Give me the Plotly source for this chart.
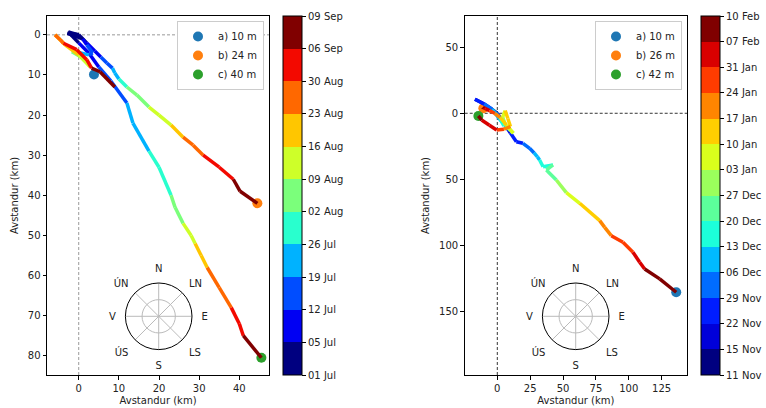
import numpy as np
import plotly.graph_objects as go

W, H = 766, 408

# ---------------- DATA ----------------
# Left panel (summer) - colorbar bin edges
L_EDGES = ["2000-07-01", "2000-07-05", "2000-07-12", "2000-07-19", "2000-07-26", "2000-08-02",
           "2000-08-09", "2000-08-16", "2000-08-23", "2000-08-30", "2000-09-06", "2000-09-09"]
L_EDGE_LABELS = ["01 Jul", "05 Jul", "12 Jul", "19 Jul", "26 Jul", "02 Aug",
                 "09 Aug", "16 Aug", "23 Aug", "30 Aug", "06 Sep", "09 Sep"]

# Right panel (winter) - colorbar bin edges
R_EDGES = ["2000-11-11", "2000-11-15", "2000-11-22", "2000-11-29", "2000-12-06", "2000-12-13",
           "2000-12-20", "2000-12-27", "2001-01-03", "2001-01-10", "2001-01-17", "2001-01-24",
           "2001-01-31", "2001-02-07", "2001-02-10"]
R_EDGE_LABELS = ["11 Nov", "15 Nov", "22 Nov", "29 Nov", "06 Dec", "13 Dec", "20 Dec", "27 Dec",
                 "03 Jan", "10 Jan", "17 Jan", "24 Jan", "31 Jan", "07 Feb", "10 Feb"]

# Left tracks
L10_T = ["07-01", "07-03", "07-06", "07-10", "07-15", "07-20", "07-26", "07-30", "08-03", "08-07",
         "08-11", "08-14", "08-18", "08-23", "08-27", "08-31", "09-03", "09-05", "09-06", "09-08", "09-09"]
L10_X = [0, -2.8, 1, 2, 3.5, 2.5, 0.5, -1.5, -1.7, 1.1, 2.8, 0, -3.4, -5.9, -4.6, -3.8, -0.5, 2, 3.2, 5.3, 9]
L10_Y = [0, -0.4, 1, 2.5, 4.5, 5, 4.5, 4, 4.2, 5.8, 7.9, 5, 2.5, 0, 1.2, 2.1, 3.7, 6.2, 8.3, 9.2, 13]

L24_T = ["07-01", "07-04", "07-08", "07-12", "07-16", "07-19", "07-23", "07-27", "08-01", "08-05",
         "08-09", "08-13", "08-17", "08-21", "08-25", "08-29", "09-02", "09-05", "09-07", "09-09"]
L24_X = [0, 2, 4, 5.5, 7, 8.4, 9, 10, 12, 14.5, 17.5, 20, 23, 26, 28.5, 31, 35, 38.5, 40.2, 44.5]
L24_Y = [0, 2, 4, 5.5, 7, 8.3, 9.5, 11, 13, 15, 18, 20, 22.5, 25.5, 27.5, 30, 33, 36, 39, 42]

L40_T = ["07-01", "07-03", "07-06", "07-09", "07-12", "07-15", "07-19", "07-22", "07-26", "07-29",
         "08-02", "08-05", "08-09", "08-12", "08-16", "08-19", "08-23", "08-26", "08-30", "09-02",
         "09-06", "09-09"]
L40_X = [0, -2.6, 0, 2.5, 5, 8, 12, 13.5, 17.5, 20, 23, 24, 26, 28, 29, 30.5, 32, 35, 38, 40, 41, 45.5]
L40_Y = [0, -0.7, 2, 4.5, 8, 11.5, 17, 22, 29, 33, 40, 43, 47, 50, 52, 55, 58, 63, 68, 72, 75, 80.5]

# Right tracks
R10_T = ["2000-11-11", "2000-11-14", "2000-11-18", "2000-11-22", "2000-11-26", "2000-11-29",
         "2000-12-02", "2000-12-06", "2000-12-10", "2000-12-13", "2000-12-17", "2000-12-20",
         "2000-12-24", "2000-12-29", "2001-01-04", "2001-01-12", "2001-01-18", "2001-01-21",
         "2001-01-24", "2001-01-28", "2001-02-01", "2001-02-04", "2001-02-07", "2001-02-09",
         "2001-02-10"]
R10_X = [0, 2, 6, 10, 14.5, 19.5, 24.6, 28, 30.5, 32.2, 34.8, 42.4, 37.3, 44.9, 52.5, 62.7, 77.9,
         81.7, 86.7, 95.6, 103.2, 108.3, 112.1, 123.5, 136.1]
R10_Y = [0, 3, 9, 15, 21.5, 22.7, 26.5, 30, 33, 35.3, 40.4, 39.1, 42.9, 50.5, 60, 68.1, 81.2,
         86.3, 92.6, 97.6, 105.1, 112.7, 117.8, 125.3, 135.4]

R26_T = ["2000-11-11", "2000-11-15", "2000-11-20", "2000-11-27", "2000-12-04", "2000-12-09",
         "2000-12-13", "2000-12-18", "2000-12-23", "2000-12-30", "2001-01-06", "2001-01-12",
         "2001-01-18", "2001-01-24", "2001-01-30", "2001-02-04", "2001-02-08", "2001-02-10"]
R26_X = [0, -2, 0, 2, -1.7, 3, 6, 9.7, 8, 10, 12.2, 7, 2, -2, -6, -9, -11, -10.6]
R26_Y = [0, -1, 1, 3, 0, 6, 9, 12.6, 11, 13, 15.1, 9, 3, 0, -2, -3.5, -4.5, -3.8]

R42_T = ["2000-11-11", "2000-11-14", "2000-11-18", "2000-11-22", "2000-11-27", "2000-12-03",
         "2000-12-09", "2000-12-14", "2000-12-20", "2000-12-26", "2001-01-02", "2001-01-08",
         "2001-01-13", "2001-01-18", "2001-01-24", "2001-01-30", "2001-02-03", "2001-02-07",
         "2001-02-10"]
R42_X = [0, -4, -10, -17, -10, -4, 0, 2.1, 5, 6, 4, 6, 8, 10, 5, -0.5, -6, -11.9, -14.4]
R42_Y = [0, -3, -7, -10.6, -7, -3, 1, 4, 9.6, 8, 3, -2, 4, 10, 12, 12.6, 9, 5.1, 2]

# End markers
L_MARK_NAMES = ["a) 10 m", "b) 24 m", "c) 40 m"]
L_MARK_X = [3.8, 44.5, 45.5]
L_MARK_Y = [9.9, 42.0, 80.5]
R_MARK_NAMES = ["a) 10 m", "b) 26 m", "c) 42 m"]
R_MARK_X = [136.1, -10.6, -14.4]
R_MARK_Y = [135.4, -3.8, 2.0]
MARK_COLORS = ["#1f77b4", "#ff7f0e", "#2ca02c"]

COMPASS_ANGLES = [0, 45, 90, 135, 180, 225, 270, 315]
COMPASS_LABELS = ["N", "LN", "E", "LS", "S", "ÚS", "V", "ÚN"]

# ---------------- helpers ----------------
def jet(x):
    r = np.interp(x, [0, 0.35, 0.66, 0.89, 1], [0, 0, 1, 1, 0.5])
    g = np.interp(x, [0, 0.125, 0.375, 0.64, 0.91, 1], [0, 0, 1, 1, 0, 0])
    b = np.interp(x, [0, 0.11, 0.34, 0.65, 1], [0.5, 1, 1, 0, 0])
    return "rgb(%d,%d,%d)" % (round(r * 255), round(g * 255), round(b * 255))


def bin_colors(n):
    return [jet(i / (n - 1)) for i in range(n)]


def to_dt(lst, prefix=""):
    return np.array([np.datetime64(prefix + s) for s in lst]).astype("datetime64[h]").astype(float)


def px_x(p):
    return p / W


def px_y(p):
    return 1 - p / H


fig = go.Figure()
FONT = "DejaVu Sans"
TXT = "#222222"


def add_markers(names, xs, ys, xa, ya, legend):
    for i, (nm, x, y) in enumerate(zip(names, xs, ys)):
        fig.add_trace(go.Scatter(x=[x], y=[y], mode="markers", name=nm, legend=legend,
                                 legendrank=i + 1,
                                 marker=dict(size=10, color=MARK_COLORS[i]),
                                 xaxis=xa, yaxis=ya, hoverinfo="skip"))


def add_tracks(tracks, edges, xa, ya):
    e = to_dt(edges)
    n = len(edges) - 1
    cols = bin_colors(n)
    segs = {k: ([], []) for k in range(n)}
    for t, xs, ys in tracks:
        for i in range(len(xs) - 1):
            mid = 0.5 * (t[i] + t[i + 1])
            k = int(np.clip(np.searchsorted(e, mid, side="right") - 1, 0, n - 1))
            sx, sy = segs[k]
            sx += [xs[i], xs[i + 1], None]
            sy += [ys[i], ys[i + 1], None]
    for k in range(n):
        sx, sy = segs[k]
        if sx:
            fig.add_trace(go.Scatter(x=sx, y=sy, mode="lines", showlegend=False,
                                     line=dict(color=cols[k], width=3.5),
                                     xaxis=xa, yaxis=ya, hoverinfo="skip"))


def add_colorbar(edges, labels, x0, xa, ya):
    n = len(edges) - 1
    cols = bin_colors(n)
    cs = []
    for i, c in enumerate(cols):
        cs.append([i / n, c])
        cs.append([(i + 1) / n, c])
    fig.add_trace(go.Scatter(
        x=[None], y=[None], mode="markers", showlegend=False, xaxis=xa, yaxis=ya,
        marker=dict(color=[0], cmin=0, cmax=n, colorscale=cs, showscale=True,
                    colorbar=dict(thickness=19, thicknessmode="pixels", len=359, lenmode="pixels",
                                  x=px_x(x0), xanchor="left", y=px_y(195.5), yanchor="middle",
                                  xpad=0, ypad=0, outlinewidth=1, outlinecolor="black",
                                  tickmode="array", tickvals=list(range(n + 1)), ticktext=labels,
                                  ticks="outside", ticklen=4, tickwidth=0.8, tickcolor="black",
                                  tickfont=dict(size=10, color=TXT, family=FONT)))))


# left panel
add_markers(L_MARK_NAMES, L_MARK_X, L_MARK_Y, "x", "y", "legend")
add_tracks([(to_dt(L10_T, "2000-"), L10_X, L10_Y),
            (to_dt(L24_T, "2000-"), L24_X, L24_Y),
            (to_dt(L40_T, "2000-"), L40_X, L40_Y)], L_EDGES, "x", "y")
add_colorbar(L_EDGES, L_EDGE_LABELS, 283, "x", "y")

# right panel
add_markers(R_MARK_NAMES, R_MARK_X, R_MARK_Y, "x2", "y2", "legend2")
add_tracks([(to_dt(R10_T), R10_X, R10_Y),
            (to_dt(R26_T), R26_X, R26_Y),
            (to_dt(R42_T), R42_X, R42_Y)], R_EDGES, "x2", "y2")
add_colorbar(R_EDGES, R_EDGE_LABELS, 700.7, "x2", "y2")

# compass roses
for sp in ["polar", "polar2"]:
    fig.add_trace(go.Scatterpolar(r=[], theta=[], subplot=sp, showlegend=False, hoverinfo="skip"))

axis_common = dict(showline=True, mirror=True, linecolor="black", linewidth=1, showgrid=False,
                   zeroline=False, ticks="outside", ticklen=3.5, tickwidth=0.8, tickcolor="black",
                   tickfont=dict(size=10, color=TXT, family=FONT), automargin=False)
title_font = dict(size=10, color=TXT, family=FONT)

polar_common = dict(
    bgcolor="rgba(0,0,0,0)",
    radialaxis=dict(range=[0, 1], tickvals=[0.5], showticklabels=False, ticks="", showline=False,
                    gridcolor="#bbbbbb", gridwidth=1),
    angularaxis=dict(rotation=90, direction="clockwise", tickmode="array", tickvals=COMPASS_ANGLES,
                     ticktext=COMPASS_LABELS, showgrid=True, gridcolor="#bbbbbb", gridwidth=1,
                     showline=True, linecolor="black", linewidth=1, ticks="outside", ticklen=7,
                     tickcolor="rgba(0,0,0,0)", tickfont=dict(size=10, color=TXT, family=FONT)),
)

R = 33.3
fig.update_layout(
    width=W, height=H, margin=dict(l=0, r=0, t=0, b=0),
    paper_bgcolor="white", plot_bgcolor="white",
    font=dict(family=FONT, size=10, color=TXT),
    xaxis=dict(domain=[px_x(47), px_x(269)], anchor="y", range=[-7.9, 47.4],
               tickvals=[0, 10, 20, 30, 40],
               title=dict(text="Avstandur (km)", font=title_font, standoff=4), **axis_common),
    yaxis=dict(domain=[px_y(375), px_y(16)], anchor="x", range=[84.8, -4.7],
               tickvals=[0, 10, 20, 30, 40, 50, 60, 70, 80],
               title=dict(text="Avstandur (km)", font=title_font, standoff=7), **axis_common),
    xaxis2=dict(domain=[px_x(464.7), px_x(687)], anchor="y2", range=[-24.8, 144.3],
                tickvals=[0, 25, 50, 75, 100, 125],
                title=dict(text="Avstandur (km)", font=title_font, standoff=4), **axis_common),
    yaxis2=dict(domain=[px_y(375), px_y(16)], anchor="x2", range=[198.0, -73.6],
                tickvals=[-50, 0, 50, 100, 150], ticktext=["50", "0", "50", "100", "150"],
                title=dict(text="Avstandur (km)", font=title_font, standoff=7), **axis_common),
    polar=dict(domain=dict(x=[px_x(158.7 - R), px_x(158.7 + R)], y=[px_y(316.3 + R), px_y(316.3 - R)]),
               **polar_common),
    polar2=dict(domain=dict(x=[px_x(575.7 - R), px_x(575.7 + R)], y=[px_y(316.3 + R), px_y(316.3 - R)]),
                **polar_common),
    legend=dict(x=px_x(264), xanchor="right", y=px_y(21), yanchor="top", bgcolor="white",
                bordercolor="#cccccc", borderwidth=1, font=dict(size=10, color=TXT, family=FONT),
                itemwidth=30, tracegroupgap=0),
    legend2=dict(x=px_x(682), xanchor="right", y=px_y(21), yanchor="top", bgcolor="white",
                 bordercolor="#cccccc", borderwidth=1, font=dict(size=10, color=TXT, family=FONT),
                 itemwidth=30, tracegroupgap=0),
    shapes=[
        dict(type="line", xref="x", yref="y domain", x0=0, x1=0, y0=0, y1=1, layer="below",
             line=dict(color="gray", width=0.8, dash="3px,2px")),
        dict(type="line", xref="x domain", yref="y", x0=0, x1=1, y0=0, y1=0, layer="below",
             line=dict(color="gray", width=0.8, dash="3px,2px")),
        dict(type="line", xref="x2", yref="y2 domain", x0=0, x1=0, y0=0, y1=1, layer="below",
             line=dict(color="black", width=0.8, dash="3px,2px")),
        dict(type="line", xref="x2 domain", yref="y2", x0=0, x1=1, y0=0, y1=0, layer="below",
             line=dict(color="black", width=0.8, dash="3px,2px")),
    ],
)

fig.write_html("out.html")
